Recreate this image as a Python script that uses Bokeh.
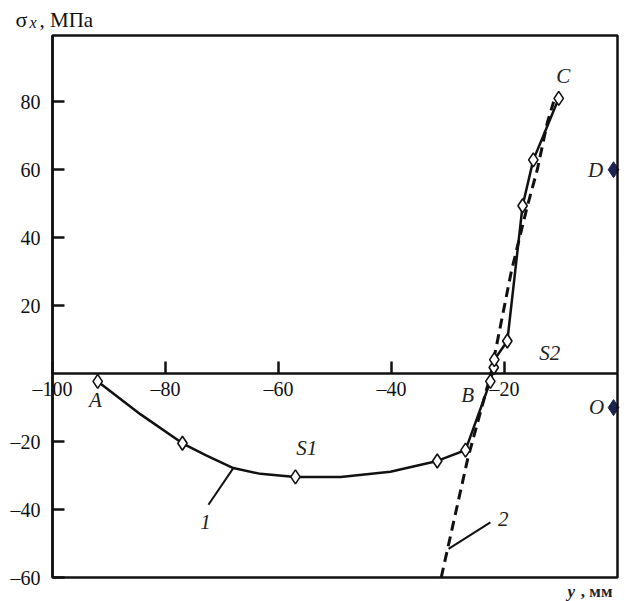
from bokeh.plotting import figure
from bokeh.models import LinearAxis, FixedTicker, CustomJSTickFormatter, Label, BoxAnnotation
from bokeh.core.properties import value
from bokeh.embed import file_html
from bokeh.resources import INLINE

# ---- data ----
# curve 1 (solid): measured points plus points read along the drawn curve
curve_x = [-92.0, -84.4, -77.0, -72.9, -68.0, -63.2, -57.0, -49.0, -40.2, -31.9, -26.9, -22.5, -21.9, -21.8, -19.5, -16.8, -14.9, -12.5, -10.4]
curve_y = [-2.3, -12.0, -20.5, -24.0, -27.8, -29.5, -30.4, -30.4, -28.9, -25.7, -22.5, -2.3, 1.8, 4.1, 9.6, 49.4, 62.9, 72.5, 81.0]
# open diamond markers (measured points)
pts_x = [-92.0, -77.0, -57.0, -31.9, -26.9, -22.5, -21.9, -21.8, -19.5, -16.8, -14.9, -10.4]
pts_y = [-2.3, -20.5, -30.4, -25.7, -22.5, -2.3, 1.8, 4.1, 9.6, 49.4, 62.9, 81.0]
# curve 2 (dashed)
dash_x = [-31.2, -26.5, -22.4, -18.8, -16.0, -14.2, -12.4, -11.3]
dash_y = [-60.0, -25.0, 0.0, 30.0, 49.0, 60.0, 74.0, 80.0]
# filled points D and O
filled_x = [-0.7, -0.7]
filled_y = [60.0, -10.0]
# point labels
letter_text = ["A", "B", "C", "D", "O", "S1", "S2", "1", "2"]
letter_x = [-92.4, -26.5, -9.6, -3.9, -3.7, -55.0, -12.0, -72.9, -20.2]
letter_y = [-7.9, -6.4, 87.7, 59.9, -9.9, -21.9, 6.1, -43.6, -42.7]
# leader lines for curve numbers
lead1_x = [-68.0, -72.4]
lead1_y = [-27.8, -38.6]
lead2_x = [-22.5, -29.9]
lead2_y = [-43.8, -51.6]
# axes
x_min, x_max = -100, 0
y_min, y_max = -60, 99.5
x_ticks = [-100, -80, -60, -40, -20]
y_ticks = [-60, -40, -20, 20, 40, 60, 80]

FONT = "Liberation Serif"
INK = "#111111"

# frame covers the whole canvas; the plot box is drawn as an annotation
W, H = 625, 601
box_l, box_r, box_t, box_b = 52, 617, 35, 577   # pixel edges of the drawn box
sx = (box_r - box_l) / (x_max - x_min)
sy = (box_b - box_t) / (y_max - y_min)
xr = (x_min - box_l / sx, x_max + (W - box_r) / sx)
yr = (y_min - (H - box_b) / sy, y_max + box_t / sy)

p = figure(width=W, height=H, x_range=xr, y_range=yr,
           x_axis_type=None, y_axis_type=None,
           output_backend="svg", toolbar_location=None,
           min_border=0, min_border_left=0, min_border_right=0,
           min_border_top=0, min_border_bottom=0,
           background_fill_color="white", border_fill_color="white")
p.grid.visible = False
p.outline_line_color = None

fmt = CustomJSTickFormatter(code="return tick < 0 ? '\\u2013' + Math.abs(tick) : String(tick);")

common = dict(formatter=fmt, major_tick_in=12, major_tick_out=0,
              minor_tick_in=0, minor_tick_out=0,
              axis_line_width=2.5, axis_line_color=INK,
              major_tick_line_width=2.5, major_tick_line_color=INK,
              major_label_text_font=FONT, major_label_text_font_size="20px",
              major_label_text_color=INK)

xa = LinearAxis(fixed_location=0, bounds=(x_min, x_max),
                ticker=FixedTicker(ticks=x_ticks, minor_ticks=[]),
                major_label_standoff=4, **common)
p.add_layout(xa, "below")

ya = LinearAxis(fixed_location=x_min, bounds=(y_min, y_max),
                ticker=FixedTicker(ticks=y_ticks, minor_ticks=[]),
                major_label_standoff=12, **common)
p.add_layout(ya, "left")

p.add_layout(BoxAnnotation(left=x_min, right=x_max, bottom=y_min, top=y_max,
                           fill_color=None, fill_alpha=0,
                           line_color=INK, line_width=2.5, line_alpha=1))

p.line(dash_x, dash_y, line_width=3, line_color=INK, line_dash="10 6")
p.line(curve_x, curve_y, line_width=2.5, line_color=INK)
p.line(lead1_x, lead1_y, line_width=2, line_color=INK)
p.line(lead2_x, lead2_y, line_width=2, line_color=INK)
p.scatter(pts_x, pts_y, marker="diamond", size=14, fill_color="white",
          line_color=INK, line_width=1.6)
p.scatter(filled_x, filled_y, marker="diamond", size=16, fill_color="#1c2350",
          line_color="#1c2350")

p.text(letter_x, letter_y, text=letter_text, text_font=value(FONT),
       text_font_style="italic", text_font_size="21px", text_align="center",
       text_baseline="middle", text_color="#222222")

# axis titles
p.add_layout(Label(x=x_min, y=y_max, x_offset=-37, y_offset=16, text="σ",
                   text_font=FONT, text_font_size="22px", text_baseline="alphabetic",
                   text_color=INK))
p.add_layout(Label(x=x_min, y=y_max, x_offset=-23, y_offset=13, text="x",
                   text_font=FONT, text_font_size="16px", text_font_style="italic",
                   text_baseline="alphabetic", text_color=INK))
p.add_layout(Label(x=x_min, y=y_max, x_offset=-13, y_offset=16, text=", МПа",
                   text_font=FONT, text_font_size="21px", text_baseline="alphabetic",
                   text_color=INK))
p.add_layout(Label(x=x_max, y=y_min, x_offset=-50, y_offset=-14, text="y",
                   text_font=FONT, text_font_size="17px", text_font_style="bold italic",
                   text_baseline="alphabetic", text_align="left", text_color="#222222"))
p.add_layout(Label(x=x_max, y=y_min, x_offset=-5, y_offset=-14, text=", мм",
                   text_font=FONT, text_font_size="17px", text_font_style="bold",
                   text_baseline="alphabetic", text_align="right", text_color="#222222"))

open("out.html", "w").write(file_html(p, INLINE))
